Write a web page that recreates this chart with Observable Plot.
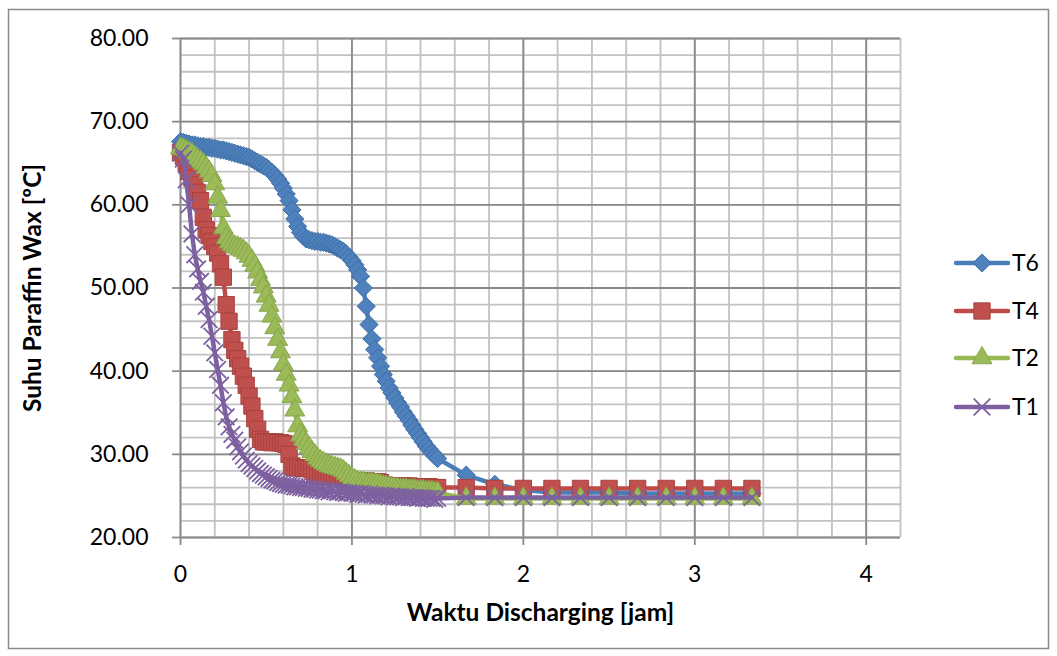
<!DOCTYPE html>
<html>
<head>
<meta charset="utf-8">
<script src="https://cdn.jsdelivr.net/npm/d3@7"></script>
<script src="https://cdn.jsdelivr.net/npm/@observablehq/plot@0.6"></script>
<style>
  html, body { margin: 0; padding: 0; background: #fff; }
  #chart { position: relative; width: 1057px; height: 656px; font-family: Lato, "Open Sans", sans-serif; }
  #chart svg { position: absolute; left: 0; top: 0; }
</style>
</head>
<body>
<div id="chart"></div>
<script>
// Sampling times in minutes: every minute up to 90, then every 10 minutes
const minutes = [
  0, 1, 2, 3, 4, 5, 6, 7, 8, 9,
  10, 11, 12, 13, 14, 15, 16, 17, 18, 19,
  20, 21, 22, 23, 24, 25, 26, 27, 28, 29,
  30, 31, 32, 33, 34, 35, 36, 37, 38, 39,
  40, 41, 42, 43, 44, 45, 46, 47, 48, 49,
  50, 51, 52, 53, 54, 55, 56, 57, 58, 59,
  60, 61, 62, 63, 64, 65, 66, 67, 68, 69,
  70, 71, 72, 73, 74, 75, 76, 77, 78, 79,
  80, 81, 82, 83, 84, 85, 86, 87, 88, 89,
  90, 100, 110, 120, 130, 140, 150, 160, 170, 180, 190, 200
];

// Paraffin wax temperature (°C) at each thermocouple
const t6 = [
  67.6, 67.5, 67.4, 67.3, 67.2, 67.2, 67.1, 67.0, 67.0, 66.9,
  66.9, 66.8, 66.8, 66.7, 66.6, 66.6, 66.5, 66.4, 66.3, 66.2,
  66.1, 66.0, 65.9, 65.8, 65.7, 65.5, 65.3, 65.1, 64.9, 64.7,
  64.5, 64.2, 63.9, 63.5, 63.1, 62.6, 62.0, 61.3, 60.5, 59.4,
  58.3, 57.4, 56.7, 56.2, 55.9, 55.8, 55.7, 55.6, 55.6, 55.5,
  55.5, 55.4, 55.3, 55.2, 55.0, 54.8, 54.6, 54.4, 54.1, 53.7,
  53.3, 52.8, 52.2, 51.4, 50.0, 47.8, 45.6, 43.9, 42.6, 41.6,
  40.6, 39.6, 38.8, 38.0, 37.4, 36.8, 36.2, 35.7, 35.1, 34.6,
  34.1, 33.5, 33.0, 32.5, 32.0, 31.5, 31.0, 30.6, 30.2, 29.8,
  29.5, 27.5, 26.4, 25.7, 25.4, 25.4, 25.4, 25.3, 25.3, 25.3, 25.3, 25.3
];
const t4 = [
  66.3, 65.8, 65.0, 64.0, 63.2, 62.4, 61.5, 60.5, 58.5, 57.0,
  56.3, 55.6, 55.0, 54.2, 52.9, 51.3, 48.0, 46.0, 43.8, 42.5,
  41.5, 40.6, 39.4, 38.3, 37.0, 35.8, 34.3, 33.0, 31.8, 31.5,
  31.5, 31.5, 31.4, 31.5, 31.4, 31.4, 31.3, 31.2, 30.0, 28.6,
  28.4, 28.4, 28.4, 28.3, 28.4, 28.3, 28.2, 27.8, 27.4, 27.4,
  27.4, 27.4, 27.3, 27.4, 27.3, 27.3, 27.3, 27.3, 27.0, 26.8,
  26.8, 26.8, 26.8, 26.8, 26.7, 26.8, 26.7, 26.7, 26.7, 26.7,
  26.6, 26.3, 26.2, 26.2, 26.2, 26.2, 26.2, 26.2, 26.2, 26.1,
  26.2, 26.1, 26.1, 26.1, 26.1, 26.1, 26.1, 26.1, 26.0, 26.0,
  26.0, 26.0, 25.9, 25.9, 25.9, 25.9, 25.9, 25.9, 25.9, 25.9, 25.9, 25.9
];
const t2 = [
  66.8, 66.7, 66.5, 66.3, 66.1, 65.8, 65.5, 65.2, 64.9, 64.5,
  64.0, 63.5, 62.5, 60.9, 59.3, 57.2, 56.0, 55.5, 55.2, 55.0,
  54.9, 54.7, 54.5, 54.2, 53.8, 53.3, 52.7, 51.9, 51.0, 50.1,
  49.0, 47.9, 46.6, 45.2, 43.8, 42.3, 40.8, 39.6, 38.3, 36.9,
  35.3, 33.4, 32.3, 31.8, 31.3, 30.8, 30.3, 29.9, 29.5, 29.2,
  29.0, 28.8, 28.6, 28.5, 28.4, 28.3, 28.2, 28.0, 27.7, 27.4,
  27.1, 26.9, 26.7, 26.6, 26.6, 26.5, 26.5, 26.5, 26.4, 26.4,
  26.3, 26.2, 26.1, 26.0, 26.0, 25.9, 25.9, 25.8, 25.8, 25.8,
  25.7, 25.7, 25.7, 25.6, 25.6, 25.6, 25.5, 25.5, 25.5, 25.4,
  25.4, 24.7, 24.7, 24.7, 24.7, 24.7, 24.7, 24.7, 24.7, 24.7, 24.7, 24.7
];
const t1 = [
  66.2, 65.5, 63.0, 60.0, 56.5, 54.0, 52.3, 50.8, 49.5, 47.8,
  46.2, 44.2, 42.2, 40.2, 38.3, 36.2, 34.5, 33.3, 32.4, 31.7,
  30.9, 30.3, 29.8, 29.3, 28.9, 28.6, 28.3, 28.0, 27.7, 27.5,
  27.3, 27.1, 26.9, 26.8, 26.6, 26.5, 26.4, 26.3, 26.3, 26.2,
  26.1, 26.1, 26.0, 26.0, 25.9, 25.9, 25.8, 25.8, 25.7, 25.7,
  25.6, 25.6, 25.5, 25.6, 25.5, 25.4, 25.5, 25.4, 25.3, 25.4,
  25.3, 25.3, 25.2, 25.3, 25.2, 25.1, 25.2, 25.1, 25.1, 25.0,
  25.1, 25.0, 25.0, 24.9, 25.0, 24.9, 24.9, 24.9, 24.8, 24.9,
  24.8, 24.8, 24.8, 24.7, 24.8, 24.7, 24.7, 24.7, 24.7, 24.6,
  24.7, 24.8, 24.8, 24.8, 24.8, 24.8, 24.8, 24.8, 24.8, 24.8, 24.8, 24.8
];

// Axis ticks
const xTicks = [0, 1, 2, 3, 4];
const xMinorTicks = [0, 0.2, 0.4, 0.6, 0.8, 1, 1.2, 1.4, 1.6, 1.8, 2, 2.2, 2.4, 2.6, 2.8, 3, 3.2, 3.4, 3.6, 3.8, 4, 4.2];
const yTicks = [20, 30, 40, 50, 60, 70, 80];
const yMinorTicks = [20, 22, 24, 26, 28, 30, 32, 34, 36, 38, 40, 42, 44, 46, 48, 50, 52, 54, 56, 58, 60, 62, 64, 66, 68, 70, 72, 74, 76, 78, 80];

const seriesNames = ["T6", "T4", "T2", "T1"];
const seriesValues = [t6, t4, t2, t1];
const lineColors = ["#4A7EBB", "#BE4B48", "#98B954", "#7D60A0"];
const markerFills = ["#4F81BD", "#C0504D", "#9BBB59", "none"];
const markerStrokes = ["#3F6FA8", "#A8423F", "#86A64B", "#7D60A0"];
const markerSymbols = ["diamond2", "square", "triangle", "times"];
const markerRadii = [8.2, 9.2, 7.4, 7.6];

const xTitle = "Waktu Discharging [jam]";
const yTitle = "Suhu Paraffin Wax [ºC]";

const seriesMarks = seriesNames.flatMap((name, k) => {
  const rows = minutes.map((m, i) => ({hours: m / 60, temp: seriesValues[k][i]}));
  return [
    Plot.line(rows, {x: "hours", y: "temp", stroke: lineColors[k], strokeWidth: 4.5}),
    Plot.dot(rows, {
      x: "hours", y: "temp",
      symbol: markerSymbols[k], r: markerRadii[k],
      fill: markerFills[k], stroke: markerStrokes[k],
      strokeWidth: markerSymbols[k] === "times" ? 1.8 : 1
    })
  ];
});

const chart = Plot.plot({
  width: 1057,
  height: 656,
  marginLeft: 180,
  marginRight: 157,
  marginTop: 38,
  marginBottom: 119,
  style: {fontFamily: "Lato, 'Open Sans', sans-serif", fontSize: "23px", color: "#000", background: "transparent"},
  x: {domain: [0, 4.2]},
  y: {domain: [20, 80]},
  marks: [
    Plot.gridX(xMinorTicks, {stroke: "#c2c2c2", strokeOpacity: 1, strokeWidth: 1.8}),
    Plot.gridY(yMinorTicks, {stroke: "#c2c2c2", strokeOpacity: 1, strokeWidth: 1.8}),
    Plot.gridX(xTicks, {stroke: "#8a8a8a", strokeOpacity: 1, strokeWidth: 1.8}),
    Plot.gridY(yTicks, {stroke: "#8a8a8a", strokeOpacity: 1, strokeWidth: 1.8}),
    Plot.axisX(xTicks, {tickSize: 8, tickPadding: 20, tickFormat: d => String(d), stroke: "#8a8a8a", strokeWidth: 1.8, label: null}),
    Plot.axisY(yTicks, {tickSize: 8, tickPadding: 24, tickFormat: d => d.toFixed(2), stroke: "#8a8a8a", strokeWidth: 1.8, label: null}),
    ...seriesMarks,
    Plot.text([xTitle], {frameAnchor: "bottom", dy: 76, textAnchor: "middle", lineAnchor: "middle", fontWeight: "bold", fontSize: 24.5, fill: "#000"}),
    Plot.text([yTitle], {frameAnchor: "left", dx: -147, rotate: -90, textAnchor: "middle", lineAnchor: "middle", fontWeight: "bold", fontSize: 24.5, fill: "#000"})
  ]
});
document.getElementById("chart").appendChild(chart);

// Chart border and legend
const overlay = d3.select("#chart").append("svg")
  .attr("width", 1057).attr("height", 656)
  .style("pointer-events", "none");

overlay.append("rect")
  .attr("x", 8.5).attr("y", 9.5).attr("width", 1040).attr("height", 639)
  .attr("fill", "none").attr("stroke", "#8a8a8a").attr("stroke-width", 1.5);

const symbolTypes = {
  diamond2: d3.symbolDiamond2, square: d3.symbolSquare,
  triangle: d3.symbolTriangle, times: d3.symbolTimes
};
const legendRowY = [263, 311, 358, 407];
const legend = overlay.append("g").attr("font-family", "Lato, 'Open Sans', sans-serif").attr("font-size", 23);
seriesNames.forEach((name, k) => {
  const g = legend.append("g").attr("transform", `translate(0,${legendRowY[k]})`);
  g.append("line").attr("x1", 956).attr("x2", 1008).attr("y1", 0).attr("y2", 0)
    .attr("stroke", lineColors[k]).attr("stroke-width", 4.5).attr("stroke-linecap", "round");
  const r = markerRadii[k];
  g.append("path")
    .attr("transform", "translate(982,0)")
    .attr("d", d3.symbol(symbolTypes[markerSymbols[k]], Math.PI * r * r)())
    .attr("fill", markerFills[k]).attr("stroke", markerStrokes[k])
    .attr("stroke-width", markerSymbols[k] === "times" ? 1.8 : 1);
  g.append("text").attr("x", 1012).attr("y", 0).attr("dy", "0.35em").text(name);
});
</script>
</body>
</html>
